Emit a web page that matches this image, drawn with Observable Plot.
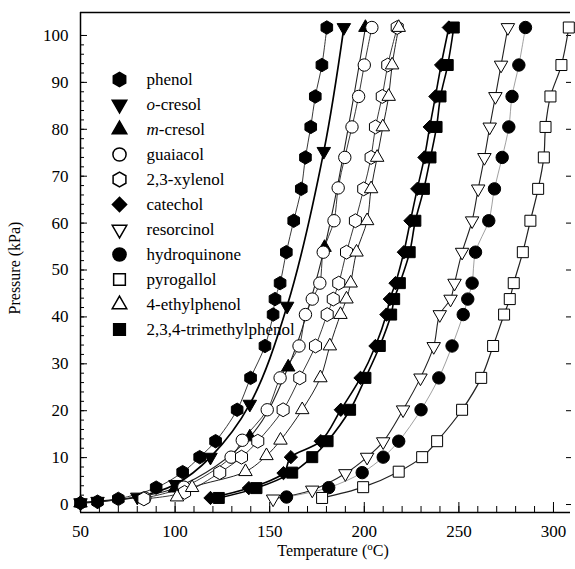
<!DOCTYPE html>
<html><head><meta charset="utf-8">
<script src="https://cdn.jsdelivr.net/npm/d3@7"></script>
<script src="https://cdn.jsdelivr.net/npm/@observablehq/plot@0.6"></script>
<style>
body{margin:0;background:#fff;}
#wrap{position:relative;width:575px;height:569px;background:#fff;}
#legend{position:absolute;left:100px;top:60px;}
svg text{font-family:'Liberation Serif','Times New Roman',serif;}
</style></head><body><div id="wrap"><div id="chart"></div><div id="legend"></div></div>
<script>
// ---- data: [temperature °C, pressure kPa] ----
const phenol = [[50,0.3],[59,0.6],[70,1.2],[90,3.6],[104,6.9],[113,10.1],[121.4,13.5],[132.8,20.2],[139.9,27],[147.5,33.8],[151.8,40.5],[152.8,43.8],[155.5,47.2],[158.8,53.8],[162.7,60.5],[166.7,67.3],[168.9,74],[171.7,80.5],[174.1,87],[177.6,93.7],[180.2,101.7]];
const oCresol = [[50,0.4],[59,0.7],[80,1.6],[100.2,4.3],[118.7,10.1],[139.5,21.4],[159.2,42.3],[178.6,75.3],[189.2,101.7]];
const mCresol = [[50,0.3],[100,3.5],[139.5,14.4],[159.8,29.3],[179,54.8],[200.6,101.7]];
const guaiacol = [[84,1.4],[104.6,3.7],[129.6,10.1],[135.5,13.7],[148.7,20.2],[155.5,27],[165.5,33.8],[168.9,40.5],[172.5,43.8],[176.5,47.2],[178.3,53.8],[184,60.5],[186.2,67.5],[189.7,74],[193.5,80.5],[197,87],[200,93.7],[204,101.7]];
const xylenol = [[83.5,1.2],[105,2.6],[123.6,6.8],[135.1,10.1],[143.7,13.5],[157.1,20.2],[165.9,27],[174.2,33.8],[180.4,40.5],[183.6,43.8],[186.5,47.2],[190.6,53.8],[195.3,60.5],[199.7,67.3],[203.6,74],[205.9,80.5],[209.5,87],[212.4,93.7],[217.4,101.7]];
const catechol = [[118.7,1.4],[139,3.5],[157.3,6.7],[161.2,10.1],[177,13.5],[187.6,20.2],[198,27],[205.9,33.8],[211.7,40.5],[213.5,43.8],[216.5,47.2],[220.9,53.8],[224.4,60.5],[228,67.3],[231.8,74],[234.6,80.5],[237.6,87],[240.6,93.7],[244.7,101.7]];
const resorcinol = [[151.8,1.2],[172.5,3.1],[190,6.6],[201.5,10.1],[210,13.4],[220.5,20.2],[229.7,27],[236.7,33.7],[239.9,40.5],[245.6,43.8],[247.7,47.2],[251.7,53.8],[257,60.5],[260.2,67.3],[263.5,74],[266.3,80.5],[269.3,87],[272.3,93.7],[275.9,101.7]];
const hydroquinone = [[158.9,1.6],[181.2,3.6],[198.9,6.8],[210,10.1],[218.2,13.5],[230,20.2],[239.4,27],[246.4,33.8],[252.3,40.5],[254.7,43.8],[257,47.2],[258.8,53.8],[265.8,60.5],[268.8,67.3],[272.9,74],[276.4,80.5],[278.1,87],[281.7,93.7],[285.2,101.7]];
const pyrogallol = [[177.7,1.4],[199.4,3.7],[218.2,7],[230.6,10.1],[238.5,13.5],[251.7,20.2],[261.8,27],[268.1,33.8],[273.9,40.5],[276.9,43.8],[279,47.2],[283.8,53.8],[287.8,60.5],[291.9,67.3],[294.9,74],[295.8,80.5],[298.4,87],[304.2,93.7],[308.1,101.7]];
const ethylphenol = [[101,1.6],[109,3.6],[137.2,7],[148.3,10.4],[155.7,13.7],[167.2,20.2],[176.8,27],[181.8,33.8],[187.4,40.5],[190.6,43.8],[192.8,47.2],[195.9,53.8],[201.5,60.5],[203.6,67.3],[206.8,74],[209.8,80.5],[212.9,87],[214.7,93.7],[218.2,101.7]];
const trimethylphenol = [[123.1,1.4],[143,3.5],[161.9,6.8],[172.5,10.1],[180.6,13.5],[192.5,20.2],[200.6,27],[208.2,33.8],[214.2,40.5],[215.8,43.8],[218.8,47.2],[224,53.8],[227,60.5],[231.5,67.3],[235,74],[238.2,80.5],[240.3,87],[244.1,93.7],[247.3,101.7]];

const names = ["phenol","o-cresol","m-cresol","guaiacol","2,3-xylenol","catechol","resorcinol","hydroquinone","pyrogallol","4-ethylphenol","2,3,4-trimethylphenol"];
const seriesData = [phenol, oCresol, mCresol, guaiacol, xylenol, catechol, resorcinol, hydroquinone, pyrogallol, ethylphenol, trimethylphenol];
const yTicks = d3.range(0, 101, 10);
const xTicks = d3.range(50, 301, 50);

// ---- styling ----
const sqrt3 = Math.sqrt(3);
const triangleDown = {draw(ctx, size) {
  const y = Math.sqrt(size / (sqrt3 * 3));
  ctx.moveTo(0, 2 * y); ctx.lineTo(-sqrt3 * y, -y); ctx.lineTo(sqrt3 * y, -y); ctx.closePath();
}};
const style = {
  "phenol": {symbol: "hexagon", fill: "black", r: 5.8, lw: 0.9, lc: "#222"},
  "o-cresol": {symbol: triangleDown, fill: "black", r: 5, lw: 1.7, lc: "#000"},
  "m-cresol": {symbol: "triangle", fill: "black", r: 5, lw: 1.1, lc: "#222"},
  "guaiacol": {symbol: "circle", fill: "white", r: 6.2, lw: 0.9, lc: "#222"},
  "2,3-xylenol": {symbol: "hexagon", fill: "white", r: 6, lw: 0.9, lc: "#222"},
  "catechol": {symbol: "diamond2", fill: "black", r: 6, lw: 1.6, lc: "#000"},
  "resorcinol": {symbol: triangleDown, fill: "white", r: 5, lw: 1.1, lc: "#222"},
  "hydroquinone": {symbol: "circle", fill: "black", r: 6.2, lw: 0.7, lc: "#777"},
  "pyrogallol": {symbol: "square", fill: "white", r: 6.2, lw: 1.2, lc: "#222"},
  "4-ethylphenol": {symbol: "triangle", fill: "white", r: 5, lw: 1, lc: "#222"},
  "2,3,4-trimethylphenol": {symbol: "square", fill: "black", r: 6.2, lw: 1.6, lc: "#000"}
};
const font = "'Liberation Serif', 'Times New Roman', serif";
const cssStyle = "font-family: 'Liberation Serif', 'Times New Roman', serif; font-size: 17px; color: black;";

const rows = names.map((n, i) => seriesData[i].map(([T, P]) => ({name: n, T, P})));
const yMin = -1.7, yMax = 104.9;

const marks = [
  Plot.ruleX([50], {strokeWidth: 1.5}),
  Plot.ruleY([yMin], {strokeWidth: 1.5}),
  Plot.ruleY([yMax], {strokeWidth: 1.5}),
  Plot.axisY(d3.range(0, 101, 2), {anchor: "left", tickSize: -4, fill: "none", label: null}),
  Plot.axisY(yTicks, {anchor: "left", tickSize: -7, fill: "none", label: null}),
  Plot.axisY(yTicks, {anchor: "left", tickSize: 0, tickPadding: 12, label: null, fontSize: 17}),
  Plot.axisY(yTicks, {anchor: "right", tickSize: -5, fill: "none", label: null}),
  Plot.axisX(d3.range(50, 301, 10), {anchor: "bottom", tickSize: -6, fill: "none", label: null}),
  Plot.axisX(xTicks, {anchor: "bottom", tickSize: -10, fill: "none", label: null}),
  Plot.axisX(xTicks, {anchor: "bottom", tickSize: 0, tickPadding: 12, label: null, fontSize: 17})
];
names.forEach((n, i) => {
  const s = style[n];
  marks.push(Plot.line(rows[i], {x: "T", y: "P", curve: "catmull-rom", stroke: s.lc, strokeWidth: s.lw}));
});
names.forEach((n, i) => {
  const s = style[n];
  marks.push(Plot.dot(rows[i], {x: "T", y: "P", symbol: s.symbol, fill: s.fill, stroke: "black", strokeWidth: 1, r: s.r}));
});

const chart = Plot.plot({
  width: 575, height: 569,
  marginLeft: 80, marginRight: 5, marginTop: 12, marginBottom: 57,
  style: cssStyle + " background: white;",
  x: {domain: [50, 309]},
  y: {domain: [yMin, yMax]},
  marks
});
document.getElementById("chart").appendChild(chart);

// axis titles
const svg = d3.select(chart);
const xt = svg.append("text").attr("x", 333).attr("y", 556).attr("text-anchor", "middle")
  .attr("font-size", 16).attr("font-family", font).attr("fill", "black");
xt.append("tspan").text("Temperature (");
xt.append("tspan").attr("font-size", 11).attr("baseline-shift", "super").text("o");
xt.append("tspan").text("C)");
svg.append("text").attr("transform", "translate(20,268) rotate(-90)").attr("text-anchor", "middle")
  .attr("font-size", 16).attr("font-family", font).attr("fill", "black").text("Pressure (kPa)");

// legend
const legendMarks = [];
names.forEach(n => {
  const s = style[n];
  legendMarks.push(Plot.dot([n], {y: d => d, frameAnchor: "left", dx: 19, symbol: s.symbol, fill: s.fill, stroke: "black", r: s.r + 0.4}));
});
legendMarks.push(Plot.text(names, {y: d => d, text: d => d, frameAnchor: "left", dx: 46, textAnchor: "start", fontSize: 17}));
const legend = Plot.plot({
  width: 320, height: 300, marginLeft: 0, marginRight: 0, marginTop: 16, marginBottom: 28,
  style: cssStyle + " background: transparent;",
  y: {type: "point", domain: names, padding: 0, axis: null},
  marks: legendMarks
});
document.getElementById("legend").appendChild(legend);
d3.select(legend).selectAll("text").each(function() {
  const t = this.textContent;
  if (/^[om]-/.test(t)) {
    const sel = d3.select(this);
    sel.text(null);
    sel.append("tspan").attr("font-style", "italic").text(t[0]);
    sel.append("tspan").text(t.slice(1));
  }
});
</script></body></html>
